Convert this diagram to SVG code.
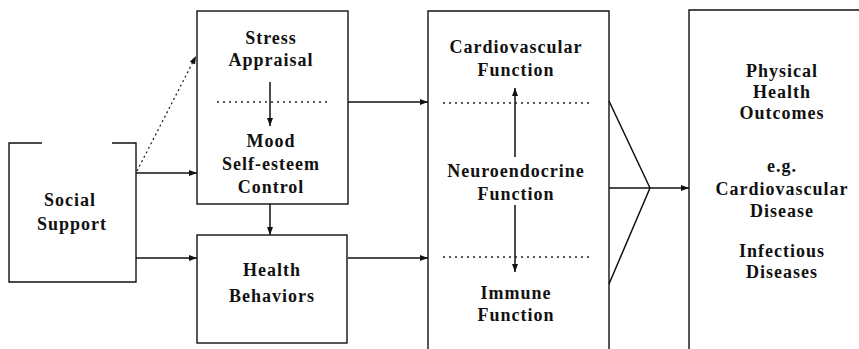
<svg xmlns="http://www.w3.org/2000/svg" width="859" height="349" viewBox="0 0 859 349">
<style>
.box{fill:none;stroke:#111;stroke-width:1.4}
.ln{fill:none;stroke:#111;stroke-width:1.5}
.dot{fill:none;stroke:#222;stroke-width:1.4;stroke-dasharray:2,4}
.dl{fill:none;stroke:#222;stroke-width:1.3;stroke-dasharray:2,3}
text{font-family:"Liberation Serif","Times New Roman",serif;font-weight:bold;font-size:18px;letter-spacing:1px;fill:#111;text-anchor:middle}
</style>
<defs>
<marker id="ah" viewBox="0 0 8 6" refX="8" refY="3" markerWidth="8" markerHeight="6" markerUnits="userSpaceOnUse" orient="auto">
<path d="M0,0 L8,3 L0,6 z" fill="#111"/>
</marker>
</defs>
<rect width="859" height="349" fill="#fff"/>
<g id="social-support">
<path class="box" d="M42,143 L9,143 L9,282 L136,282 L136,143 L112,143"/>
<text x="70" y="206">Social</text>
<text x="72" y="230">Support</text>
</g>
<g id="stress-mood">
<rect class="box" x="197" y="11" width="151" height="193"/>
<text x="271" y="44">Stress</text>
<text x="271" y="66">Appraisal</text>
<line class="dot" x1="217" y1="102" x2="331" y2="102"/>
<text x="271" y="147">Mood</text>
<text x="271" y="170">Self-esteem</text>
<text x="271" y="193">Control</text>
</g>
<g id="health-behaviors">
<rect class="box" x="197" y="235" width="150" height="108"/>
<text x="272" y="276">Health</text>
<text x="272" y="302">Behaviors</text>
</g>
<g id="physiological">
<path class="box" d="M428,360 L428,11 L609,11 L609,360"/>
<text x="516" y="53">Cardiovascular</text>
<text x="516" y="76">Function</text>
<line class="dot" x1="443" y1="103" x2="593" y2="103"/>
<text x="516" y="177">Neuroendocrine</text>
<text x="516" y="200">Function</text>
<line class="dot" x1="443" y1="257" x2="593" y2="257"/>
<text x="516" y="299">Immune</text>
<text x="516" y="321">Function</text>
</g>
<g id="outcomes">
<path class="box" d="M689,360 L689,10 L870,10"/>
<text x="782" y="77">Physical</text>
<text x="782" y="98">Health</text>
<text x="782" y="119">Outcomes</text>
<text x="782" y="172">e.g.</text>
<text x="782" y="195">Cardiovascular</text>
<text x="782" y="217">Disease</text>
<text x="782" y="257">Infectious</text>
<text x="782" y="278">Diseases</text>
</g>
<g id="connectors">
<line class="dl" x1="137" y1="171" x2="196" y2="56" marker-end="url(#ah)"/>
<line class="ln" x1="136" y1="173" x2="197" y2="173" marker-end="url(#ah)"/>
<line class="ln" x1="136" y1="258" x2="197" y2="258" marker-end="url(#ah)"/>
<line class="ln" x1="270" y1="82" x2="270" y2="126" marker-end="url(#ah)"/>
<line class="ln" x1="270" y1="204" x2="270" y2="235" marker-end="url(#ah)"/>
<line class="ln" x1="348" y1="102" x2="428" y2="102" marker-end="url(#ah)"/>
<line class="ln" x1="348" y1="258" x2="428" y2="258" marker-end="url(#ah)"/>
<line class="ln" x1="515" y1="157" x2="515" y2="88" marker-end="url(#ah)"/>
<line class="ln" x1="515" y1="205" x2="515" y2="272" marker-end="url(#ah)"/>
<path class="ln" d="M609,101 L650,188 M609,188 L650,188 M609,284 L650,188"/>
<line class="ln" x1="650" y1="188" x2="689" y2="188" marker-end="url(#ah)"/>
</g>
</svg>
